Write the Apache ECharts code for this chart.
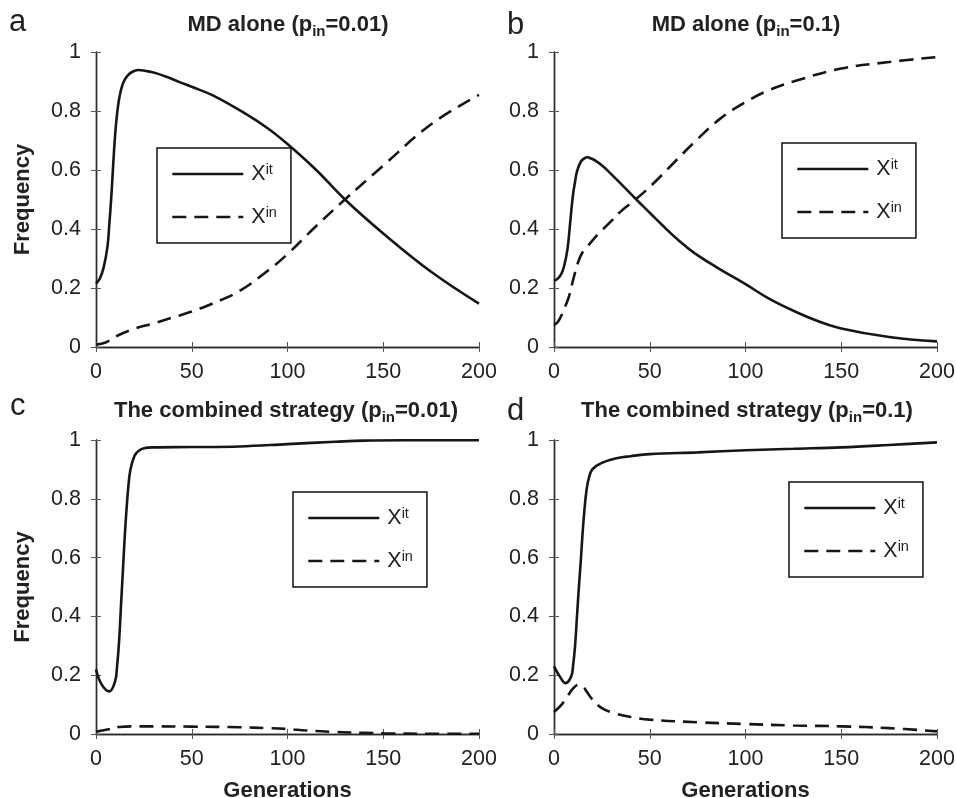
<!DOCTYPE html>
<html>
<head>
<meta charset="utf-8">
<script src="https://cdn.jsdelivr.net/npm/echarts@6/dist/echarts.min.js"></script>
<style>
  html, body { margin: 0; padding: 0; background: #fff; }
  #chart { width: 956px; height: 798px; }
</style>
</head>
<body>
<div id="chart"></div>
<script>
// panel a: MD alone, p_in = 0.01
var aGenIt = [0, 2, 4, 6, 7, 8, 9, 10, 11, 12, 13, 14.5, 16.5, 19, 22, 29, 36, 44, 50, 61, 78, 90, 100, 115, 130, 150, 175, 200];
var aIt = [0.215, 0.232, 0.27, 0.34, 0.42, 0.51, 0.62, 0.72, 0.79, 0.838, 0.87, 0.9, 0.92, 0.933, 0.939, 0.932, 0.918, 0.897, 0.882, 0.853, 0.791, 0.74, 0.688, 0.60, 0.50, 0.385, 0.255, 0.147];
var aGenIn = [0, 5, 10, 20, 30, 40, 50, 60, 75, 90, 100, 115, 130, 150, 175, 200];
var aIn = [0.008, 0.015, 0.035, 0.062, 0.08, 0.1, 0.12, 0.145, 0.19, 0.26, 0.315, 0.41, 0.50, 0.615, 0.755, 0.855];

// panel b: MD alone, p_in = 0.1
var bGenIt = [0, 2, 4, 5.5, 7, 8, 9, 10, 11, 12, 14, 16, 17.5, 19, 22, 26, 30, 35, 43, 50, 57, 65, 73, 85, 100, 112, 125, 137, 150, 175, 200];
var bIt = [0.224, 0.232, 0.25, 0.28, 0.33, 0.39, 0.46, 0.52, 0.56, 0.595, 0.628, 0.64, 0.643, 0.64, 0.63, 0.61, 0.585, 0.553, 0.50, 0.455, 0.41, 0.362, 0.32, 0.27, 0.213, 0.165, 0.123, 0.09, 0.063, 0.034, 0.019];
var bGenIn = [0, 2, 4.4, 6, 7.8, 10.4, 13, 15, 17.4, 22.6, 28.7, 34.8, 42.6, 52, 64, 75, 87, 100, 112, 125, 150, 175, 200];
var bIn = [0.075, 0.085, 0.114, 0.14, 0.171, 0.238, 0.295, 0.322, 0.34, 0.38, 0.419, 0.459, 0.50, 0.555, 0.634, 0.705, 0.775, 0.83, 0.87, 0.9, 0.944, 0.966, 0.983];

// panel c: combined strategy, p_in = 0.01
var cGenIt = [0, 3, 7, 10, 11, 12, 13, 14, 15, 16, 17, 18, 20, 22, 25, 30, 50, 75, 100, 125, 140, 160, 200];
var cIt = [0.22, 0.168, 0.145, 0.18, 0.23, 0.31, 0.43, 0.55, 0.67, 0.77, 0.85, 0.9, 0.945, 0.962, 0.972, 0.975, 0.976, 0.978, 0.986, 0.994, 0.998, 0.999, 0.999];
var cGenIn = [0, 6, 12, 20, 30, 50, 75, 90, 100, 110, 125, 140, 150, 175, 200];
var cIn = [0.008, 0.015, 0.024, 0.026, 0.026, 0.025, 0.023, 0.02, 0.017, 0.012, 0.007, 0.004, 0.002, 0.001, 0.001];

// panel d: combined strategy, p_in = 0.1
var dGenIt = [0, 3, 6, 9, 10, 11, 12, 13, 14, 15, 16, 17, 18, 20, 25, 32, 40, 50, 75, 100, 125, 150, 175, 200];
var dIt = [0.23, 0.196, 0.173, 0.196, 0.235, 0.3, 0.4, 0.5, 0.59, 0.69, 0.77, 0.83, 0.865, 0.9, 0.922, 0.937, 0.945, 0.952, 0.958, 0.965, 0.97, 0.975, 0.983, 0.992];
var dGenIn = [0, 4, 7, 10, 13, 15, 17, 20, 25, 32, 40, 50, 75, 100, 125, 150, 175, 200];
var dIn = [0.075, 0.1, 0.128, 0.155, 0.168, 0.163, 0.145, 0.118, 0.088, 0.07, 0.058, 0.049, 0.04, 0.034, 0.029, 0.026, 0.02, 0.009];

var panelLetters = ['a', 'b', 'c', 'd'];
var panelTitles = [
    '{t|MD alone (p}{s|in}{t|=0.01)}',
    '{t|MD alone (p}{s|in}{t|=0.1)}',
    '{t|The combined strategy (p}{s|in}{t|=0.01)}',
    '{t|The combined strategy (p}{s|in}{t|=0.1)}'
];

var FONT = 'Liberation Sans, Arial, Helvetica, sans-serif';
var INK = '#161616';

var chart = echarts.init(document.getElementById('chart'));

function zip(xs, ys) {
    return xs.map(function (x, i) { return [x, ys[i]]; });
}

var grids = [
    {left: 96, top: 52, width: 383, height: 295, outerBoundsMode: 'none'},
    {left: 554, top: 52, width: 383, height: 295, outerBoundsMode: 'none'},
    {left: 96, top: 440, width: 383, height: 294, outerBoundsMode: 'none'},
    {left: 554, top: 440, width: 383, height: 294, outerBoundsMode: 'none'}
];
var legendPos = [[157, 148], [782, 143], [293, 492], [789, 482]];
var titleCenters = [[288, 11], [746, 11], [286, 397], [747, 397]];
var letterPos = [[9, 7], [507, 10], [10, 391], [507, 396]];

var curves = [
    [zip(aGenIt, aIt), zip(aGenIn, aIn)],
    [zip(bGenIt, bIt), zip(bGenIn, bIn)],
    [zip(cGenIt, cIt), zip(cGenIn, cIn)],
    [zip(dGenIt, dIt), zip(dGenIn, dIn)]
];

var frameLine = {show: true, lineStyle: {color: '#2a2a2a', width: 1.4}};
var inTick = {show: true, inside: true, length: 5, lineStyle: {color: '#555', width: 1}};

var xAxes = [], yAxes = [], series = [], legends = [], titles = [];

grids.forEach(function (g, i) {
    var bottomRow = i >= 2, leftCol = i % 2 === 0;
    xAxes.push({
        gridIndex: i, type: 'value', min: 0, max: 200, interval: 50,
        axisLine: frameLine, axisTick: inTick, splitLine: {show: false},
        axisLabel: {fontSize: 21.5, color: '#222', fontFamily: FONT, margin: 14},
        name: bottomRow ? 'Generations' : '', nameLocation: 'middle', nameGap: 46,
        nameTextStyle: {fontSize: 22, fontWeight: 'bold', color: '#222', fontFamily: FONT}
    });
    xAxes.push({
        gridIndex: i, type: 'value', position: 'top', min: 0, max: 200, interval: 50,
        axisLine: frameLine, axisTick: inTick, axisLabel: {show: false}, splitLine: {show: false}
    });
    yAxes.push({
        gridIndex: i, type: 'value', min: 0, max: 1, interval: 0.2,
        axisLine: frameLine, axisTick: inTick, splitLine: {show: false},
        axisLabel: {fontSize: 21.5, color: '#222', fontFamily: FONT, margin: 15},
        name: leftCol ? 'Frequency' : '', nameLocation: 'middle', nameGap: 62,
        nameTextStyle: {fontSize: 22, fontWeight: 'bold', color: '#222', fontFamily: FONT}
    });
    yAxes.push({
        gridIndex: i, type: 'value', position: 'right', min: 0, max: 1, interval: 0.2,
        axisLine: frameLine, axisTick: inTick, axisLabel: {show: false}, splitLine: {show: false}
    });

    series.push({
        name: 'Xit', type: 'line', xAxisIndex: 2 * i, yAxisIndex: 2 * i,
        data: curves[i][0], symbol: 'none', smooth: 0.4,
        lineStyle: {color: INK, width: 2.6, type: 'solid'}, itemStyle: {color: INK}
    });
    series.push({
        name: 'Xin', type: 'line', xAxisIndex: 2 * i, yAxisIndex: 2 * i,
        data: curves[i][1], symbol: 'none', smooth: 0.4,
        lineStyle: {color: INK, width: 2.6, type: [14, 8]}, itemStyle: {color: INK}
    });

    legends.push({
        orient: 'vertical', left: legendPos[i][0], top: legendPos[i][1],
        data: ['Xit', 'Xin'], selectedMode: false,
        itemWidth: 71, itemHeight: 20, itemGap: 20,
        padding: [14, 14, 15, 14],
        borderColor: '#111', borderWidth: 1.5, backgroundColor: '#fff',
        itemStyle: {opacity: 0},
        lineStyle: {opacity: 1, width: 2.6, color: INK},
        formatter: function (n) { return n === 'Xit' ? '{x|X}{s|it}' : '{x|X}{s|in}'; },
        textStyle: {
            rich: {
                x: {fontSize: 21.5, color: '#222', fontFamily: FONT, lineHeight: 24, padding: [0, 0, 0, 3]},
                s: {fontSize: 14.5, color: '#222', fontFamily: FONT, lineHeight: 14, verticalAlign: 'top'}
            }
        }
    });

    titles.push({
        text: panelTitles[i], left: titleCenters[i][0], top: titleCenters[i][1],
        textAlign: 'center', padding: 0,
        textStyle: {
            rich: {
                t: {fontSize: 22, fontWeight: 'bold', color: '#222', fontFamily: FONT, lineHeight: 28},
                s: {fontSize: 15, fontWeight: 'bold', color: '#222', fontFamily: FONT, lineHeight: 14, verticalAlign: 'bottom'}
            }
        }
    });
    titles.push({
        text: panelLetters[i], left: letterPos[i][0], top: letterPos[i][1], padding: 0,
        textStyle: {fontSize: 31, fontWeight: 'normal', color: '#222', fontFamily: FONT}
    });
});

var option = {
    backgroundColor: '#fff',
    animation: false,
    title: titles,
    grid: grids,
    xAxis: xAxes,
    yAxis: yAxes,
    legend: legends,
    series: series
};
chart.setOption(option);
</script>
</body>
</html>
